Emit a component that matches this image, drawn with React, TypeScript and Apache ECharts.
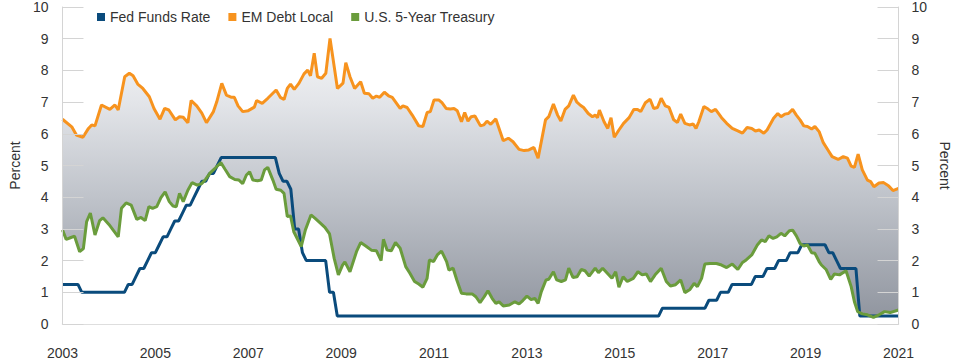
import React, { useEffect, useRef } from "react";
import * as echarts from "echarts";

// Fed Funds Rate (upper bound of target), monthly from Jan 2003 to Jan 2021
const fedStartYear = 2003;
const fedValues: number[] = [
  1.25, 1.25, 1.25, 1.25, 1.25, 1.0, 1.0, 1.0, 1.0, 1.0, 1.0, 1.0, // 2003
  1.0, 1.0, 1.0, 1.0, 1.0, 1.25, 1.25, 1.5, 1.75, 1.75, 2.0, 2.25, // 2004
  2.25, 2.5, 2.75, 2.75, 3.0, 3.25, 3.25, 3.5, 3.75, 3.75, 4.0, 4.25, // 2005
  4.5, 4.5, 4.75, 4.75, 5.0, 5.25, 5.25, 5.25, 5.25, 5.25, 5.25, 5.25, // 2006
  5.25, 5.25, 5.25, 5.25, 5.25, 5.25, 5.25, 5.25, 4.75, 4.5, 4.5, 4.25, // 2007
  3.0, 3.0, 2.25, 2.0, 2.0, 2.0, 2.0, 2.0, 2.0, 1.0, 1.0, 0.25, // 2008
  0.25, 0.25, 0.25, 0.25, 0.25, 0.25, 0.25, 0.25, 0.25, 0.25, 0.25, 0.25, // 2009
  0.25, 0.25, 0.25, 0.25, 0.25, 0.25, 0.25, 0.25, 0.25, 0.25, 0.25, 0.25, // 2010
  0.25, 0.25, 0.25, 0.25, 0.25, 0.25, 0.25, 0.25, 0.25, 0.25, 0.25, 0.25, // 2011
  0.25, 0.25, 0.25, 0.25, 0.25, 0.25, 0.25, 0.25, 0.25, 0.25, 0.25, 0.25, // 2012
  0.25, 0.25, 0.25, 0.25, 0.25, 0.25, 0.25, 0.25, 0.25, 0.25, 0.25, 0.25, // 2013
  0.25, 0.25, 0.25, 0.25, 0.25, 0.25, 0.25, 0.25, 0.25, 0.25, 0.25, 0.25, // 2014
  0.25, 0.25, 0.25, 0.25, 0.25, 0.25, 0.25, 0.25, 0.25, 0.25, 0.25, 0.5, // 2015
  0.5, 0.5, 0.5, 0.5, 0.5, 0.5, 0.5, 0.5, 0.5, 0.5, 0.5, 0.75, // 2016
  0.75, 0.75, 1.0, 1.0, 1.0, 1.25, 1.25, 1.25, 1.25, 1.25, 1.25, 1.5, // 2017
  1.5, 1.5, 1.75, 1.75, 1.75, 2.0, 2.0, 2.0, 2.25, 2.25, 2.25, 2.5, // 2018
  2.5, 2.5, 2.5, 2.5, 2.5, 2.5, 2.25, 2.25, 2.0, 1.75, 1.75, 1.75, // 2019
  1.75, 1.75, 0.25, 0.25, 0.25, 0.25, 0.25, 0.25, 0.25, 0.25, 0.25, 0.25, // 2020
  0.25, // 2021
];

// EM Debt Local yield
const emDates: number[] = [
  2003.0, 2003.2, 2003.3, 2003.44, 2003.56, 2003.63, 2003.7, 2003.84, 2004.02, 2004.13,
  2004.2, 2004.34, 2004.44, 2004.52, 2004.62, 2004.73, 2004.87, 2004.97, 2005.1, 2005.2,
  2005.29, 2005.43, 2005.52, 2005.6, 2005.7, 2005.77, 2005.89, 2006.0, 2006.1, 2006.25,
  2006.32, 2006.43, 2006.53, 2006.64, 2006.7, 2006.78, 2006.88, 2007.0, 2007.13, 2007.18,
  2007.3, 2007.42, 2007.6, 2007.69, 2007.77, 2007.84, 2007.91, 2007.99, 2008.09, 2008.2,
  2008.28, 2008.34, 2008.42, 2008.49, 2008.58, 2008.67, 2008.76, 2008.92, 2009.04, 2009.1,
  2009.19, 2009.29, 2009.42, 2009.5, 2009.6, 2009.68, 2009.76, 2009.83, 2009.93, 2010.02,
  2010.1, 2010.27, 2010.33, 2010.42, 2010.53, 2010.67, 2010.76, 2010.85, 2010.92, 2011.0,
  2011.1, 2011.17, 2011.26, 2011.35, 2011.43, 2011.5, 2011.59, 2011.66, 2011.73, 2011.8,
  2011.88, 2012.0, 2012.07, 2012.14, 2012.22, 2012.33, 2012.4, 2012.49, 2012.6, 2012.7,
  2012.83, 2012.94, 2013.04, 2013.15, 2013.24, 2013.4, 2013.47, 2013.57, 2013.66, 2013.73,
  2013.82, 2013.9, 2014.0, 2014.07, 2014.15, 2014.22, 2014.32, 2014.41, 2014.47, 2014.52,
  2014.56, 2014.66, 2014.74, 2014.81, 2014.88, 2014.98, 2015.08, 2015.2, 2015.3, 2015.38,
  2015.45, 2015.55, 2015.65, 2015.73, 2015.81, 2015.89, 2015.98, 2016.06, 2016.16, 2016.24,
  2016.31, 2016.4, 2016.5, 2016.58, 2016.64, 2016.7, 2016.81, 2016.9, 2016.97, 2017.06,
  2017.19, 2017.3, 2017.42, 2017.54, 2017.64, 2017.74, 2017.84, 2017.92, 2018.0, 2018.1,
  2018.17, 2018.31, 2018.4, 2018.47, 2018.55, 2018.63, 2018.72, 2018.8, 2018.88, 2018.96,
  2019.04, 2019.13, 2019.2, 2019.29, 2019.38, 2019.48, 2019.57, 2019.7, 2019.81, 2019.9,
  2019.98, 2020.05, 2020.13, 2020.22, 2020.33, 2020.4, 2020.47, 2020.58, 2020.68, 2020.79,
  2020.88, 2021.0,
];
const emValues: number[] = [
  6.46, 6.22, 5.96, 5.89, 6.17, 6.28, 6.25, 6.91, 6.77, 6.91,
  6.75, 7.8, 7.91, 7.83, 7.57, 7.43, 7.17, 6.8, 6.46, 6.8,
  6.75, 6.44, 6.54, 6.52, 6.35, 7.05, 6.88, 6.65, 6.35, 6.7,
  7.0, 7.59, 7.22, 7.15, 7.15, 6.88, 6.7, 6.73, 6.84, 7.05,
  6.96, 7.12, 7.38, 7.15, 7.08, 7.43, 7.57, 7.4, 7.59, 7.89,
  8.01, 7.83, 8.54, 7.8, 7.75, 7.91, 9.01, 7.43, 7.6, 8.24,
  7.8, 7.43, 7.64, 7.28, 7.26, 7.12, 7.19, 7.15, 7.31, 7.2,
  7.15, 6.8, 6.88, 6.83, 6.59, 6.25, 6.23, 6.67, 6.7, 7.07,
  7.07, 6.98, 6.8, 6.78, 6.8, 6.73, 6.38, 6.67, 6.4, 6.54,
  6.56, 6.25, 6.28, 6.4, 6.3, 6.47, 6.17, 5.78, 5.86, 5.75,
  5.51, 5.47, 5.49, 5.57, 5.23, 6.44, 6.54, 6.94, 6.59, 6.4,
  6.77, 6.88, 7.22, 7.01, 6.9, 6.83, 6.64, 6.54, 6.59, 6.51,
  6.75, 6.38, 6.17, 6.51, 5.89, 6.12, 6.33, 6.51, 6.77, 6.77,
  6.7, 6.98, 7.09, 6.8, 6.83, 7.12, 6.88, 6.83, 6.44, 6.36,
  6.62, 6.33, 6.28, 6.31, 6.17, 6.38, 6.86, 6.78, 6.7, 6.77,
  6.51, 6.33, 6.17, 6.09, 6.02, 6.2, 6.17, 6.09, 6.12, 6.02,
  6.12, 6.49, 6.64, 6.54, 6.62, 6.64, 6.77, 6.59, 6.44, 6.25,
  6.23, 6.15, 6.23, 6.07, 5.72, 5.49, 5.28, 5.19, 5.28, 5.23,
  4.98, 4.94, 5.36, 4.86, 4.54, 4.49, 4.33, 4.45, 4.46, 4.35,
  4.21, 4.28,
];

// U.S. 5-Year Treasury yield
const tsyDates: number[] = [
  2003.0, 2003.08, 2003.17, 2003.26, 2003.37, 2003.45, 2003.52, 2003.6, 2003.7, 2003.8,
  2003.87, 2004.0, 2004.2, 2004.27, 2004.37, 2004.48, 2004.6, 2004.69, 2004.78, 2004.86,
  2004.94, 2005.03, 2005.12, 2005.21, 2005.3, 2005.38, 2005.45, 2005.52, 2005.6, 2005.7,
  2005.79, 2005.9, 2006.0, 2006.08, 2006.18, 2006.29, 2006.41, 2006.5, 2006.6, 2006.71,
  2006.8, 2006.88, 2006.96, 2007.03, 2007.1, 2007.2, 2007.28, 2007.35, 2007.42, 2007.53,
  2007.6, 2007.7, 2007.77, 2007.84, 2007.91, 2007.98, 2008.07, 2008.14, 2008.23, 2008.35,
  2008.44, 2008.54, 2008.65, 2008.75, 2008.85, 2008.94, 2009.03, 2009.08, 2009.19, 2009.33,
  2009.42, 2009.53, 2009.65, 2009.76, 2009.86, 2009.91, 2009.99, 2010.08, 2010.17, 2010.27,
  2010.39, 2010.48, 2010.58, 2010.67, 2010.76, 2010.85, 2010.9, 2010.99, 2011.07, 2011.16,
  2011.27, 2011.32, 2011.41, 2011.49, 2011.59, 2011.69, 2011.82, 2011.9, 2011.99, 2012.08,
  2012.16, 2012.25, 2012.33, 2012.4, 2012.49, 2012.62, 2012.74, 2012.83, 2012.91, 2013.0,
  2013.09, 2013.17, 2013.24, 2013.31, 2013.41, 2013.47, 2013.57, 2013.64, 2013.74, 2013.83,
  2013.9, 2013.99, 2014.08, 2014.17, 2014.25, 2014.34, 2014.47, 2014.54, 2014.63, 2014.73,
  2014.83, 2014.91, 2014.98, 2015.07, 2015.16, 2015.29, 2015.39, 2015.48, 2015.57, 2015.66,
  2015.76, 2015.89, 2016.0, 2016.09, 2016.2, 2016.31, 2016.4, 2016.51, 2016.6, 2016.67,
  2016.76, 2016.83, 2016.94, 2017.08, 2017.19, 2017.3, 2017.42, 2017.54, 2017.64, 2017.72,
  2017.84, 2017.96, 2018.05, 2018.13, 2018.21, 2018.3, 2018.38, 2018.47, 2018.55, 2018.65,
  2018.72, 2018.8, 2018.88, 2018.96, 2019.04, 2019.13, 2019.2, 2019.29, 2019.34, 2019.44,
  2019.54, 2019.62, 2019.73, 2019.87, 2019.98, 2020.05, 2020.12, 2020.22, 2020.33, 2020.46,
  2020.58, 2020.7, 2020.82, 2021.0,
];
const tsyValues: number[] = [
  2.97, 2.67, 2.72, 2.77, 2.28, 2.38, 3.23, 3.5, 2.81, 3.26,
  3.35, 3.14, 2.75, 3.65, 3.82, 3.75, 3.3, 3.36, 3.26, 3.7,
  3.65, 3.7, 3.99, 4.17, 3.86, 3.72, 3.7, 4.12, 3.86, 4.22,
  4.46, 4.38, 4.43, 4.56, 4.77, 4.92, 5.09, 4.88, 4.65, 4.56,
  4.54, 4.43, 4.7, 4.8, 4.54, 4.52, 4.54, 4.86, 4.94, 4.54,
  4.25, 4.22, 4.12, 3.39, 3.41, 2.91, 2.65, 2.44, 2.97, 3.44,
  3.33, 3.2, 3.05, 2.84, 2.07, 1.55, 1.86, 1.96, 1.65, 2.28,
  2.57, 2.46, 2.33, 2.31, 2.0, 2.67, 2.33, 2.31, 2.57, 2.39,
  1.81, 1.6, 1.34, 1.26, 1.16, 1.44, 2.02, 1.97, 2.18, 2.3,
  1.97, 1.7, 1.76, 1.39, 0.97, 0.95, 0.95, 0.86, 0.67, 0.86,
  1.05, 0.81, 0.65, 0.7, 0.57, 0.6, 0.7, 0.63, 0.74, 0.88,
  0.77, 0.81, 0.65, 1.02, 1.39, 1.41, 1.65, 1.39, 1.34, 1.39,
  1.76, 1.47, 1.49, 1.72, 1.68, 1.51, 1.76, 1.62, 1.76, 1.6,
  1.44, 1.65, 1.16, 1.49, 1.34, 1.44, 1.65, 1.55, 1.58, 1.34,
  1.55, 1.76, 1.34, 1.2, 1.24, 1.39, 0.99, 1.09, 1.28, 1.18,
  1.44, 1.89, 1.91, 1.91, 1.86, 1.78, 1.89, 1.72, 1.94, 2.02,
  2.18, 2.49, 2.65, 2.6, 2.78, 2.7, 2.75, 2.86, 2.78, 2.94,
  2.96, 2.78, 2.54, 2.46, 2.49, 2.25, 2.23, 1.97, 1.86, 1.72,
  1.41, 1.58, 1.55, 1.68, 1.18, 0.7, 0.39, 0.32, 0.29, 0.21,
  0.29, 0.39, 0.36, 0.44,
];

const seriesNames = ["Fed Funds Rate", "EM Debt Local", "U.S. 5-Year Treasury"];
const seriesColors = ["#0a4b7c", "#f7931e", "#6a9c3c"];

const FONT = "'Liberation Sans', Arial, Helvetica, sans-serif";

export default function App() {
  const ref = useRef<HTMLDivElement>(null);

  useEffect(() => {
    if (!ref.current) return;
    const chart = echarts.init(ref.current, undefined, { renderer: "svg" });

    const fedData = fedValues.map((v, i) => [fedStartYear + i / 12, v]);
    const emData = emDates.map((d, i) => [d, emValues[i]]);
    const tsyData = tsyDates.map((d, i) => [d, tsyValues[i]]);

    const gradient = {
      type: "linear",
      x: 0,
      y: 7,
      x2: 0,
      y2: 324,
      global: true,
      colorStops: [
        { offset: 0, color: "#ffffff" },
        { offset: 0.3, color: "#e3e5e9" },
        { offset: 0.6, color: "#bfc3ca" },
        { offset: 1, color: "#8e939d" },
      ],
    };

    const yAxisBase = {
      type: "value",
      min: 0,
      max: 10,
      interval: 1,
      z: 5,
      axisLine: { show: true, lineStyle: { color: "#d4d4d4", width: 1 } },
      axisTick: { show: true, inside: true, length: 21, lineStyle: { color: "#d4d4d4", width: 1 } },
      splitLine: { show: false },
      nameLocation: "middle",
      nameTextStyle: { fontSize: 14, color: "#333", fontFamily: FONT },
    };

    chart.setOption({
      animation: false,
      textStyle: { fontFamily: FONT },
      grid: { left: 57, right: 55, top: 7, bottom: 38, containLabel: false },
      legend: {
        data: seriesNames,
        left: 92,
        top: 5,
        icon: "rect",
        itemWidth: 8,
        itemHeight: 8,
        itemGap: 18,
        textStyle: { fontSize: 14, color: "#333", fontFamily: FONT },
      },
      xAxis: {
        type: "value",
        min: 2003,
        max: 2021,
        interval: 2,
        axisLine: { show: true, lineStyle: { color: "#d4d4d4", width: 1.5 } },
        axisTick: { show: false },
        splitLine: { show: false },
        axisLabel: {
          margin: 22,
          fontSize: 14,
          color: "#333",
          fontFamily: FONT,
          formatter: (v: number) => String(v),
        },
      },
      yAxis: [
        {
          ...yAxisBase,
          position: "left",
          name: "Percent",
          nameRotate: 90,
          nameGap: 34,
          axisLabel: { margin: 14, fontSize: 14, color: "#333", fontFamily: FONT },
        },
        {
          ...yAxisBase,
          position: "right",
          name: "Percent",
          nameRotate: -90,
          nameGap: 34,
          axisLabel: { margin: 13, fontSize: 14, color: "#333", fontFamily: FONT },
        },
      ],
      series: [
        {
          name: "_emFill",
          type: "line",
          data: emData,
          showSymbol: false,
          silent: true,
          lineStyle: { width: 0, opacity: 0 },
          areaStyle: { color: gradient, opacity: 1 },
          z: 1,
        },
        {
          name: "_tsyFill",
          type: "line",
          data: tsyData,
          showSymbol: false,
          silent: true,
          lineStyle: { width: 0, opacity: 0 },
          areaStyle: { color: "#ffffff", opacity: 1 },
          z: 1,
        },
        {
          name: seriesNames[0],
          type: "line",
          data: fedData,
          showSymbol: false,
          color: seriesColors[0],
          lineStyle: { width: 3, color: seriesColors[0] },
          z: 3,
        },
        {
          name: seriesNames[1],
          type: "line",
          data: emData,
          showSymbol: false,
          color: seriesColors[1],
          lineStyle: { width: 3, color: seriesColors[1] },
          z: 3,
        },
        {
          name: seriesNames[2],
          type: "line",
          data: tsyData,
          showSymbol: false,
          color: seriesColors[2],
          lineStyle: { width: 3, color: seriesColors[2] },
          z: 3,
        },
      ],
    } as any);

    return () => chart.dispose();
  }, []);

  return (
    <div
      ref={ref}
      style={{ position: "absolute", left: 0, top: 0, width: 960, height: 362 }}
    />
  );
}
